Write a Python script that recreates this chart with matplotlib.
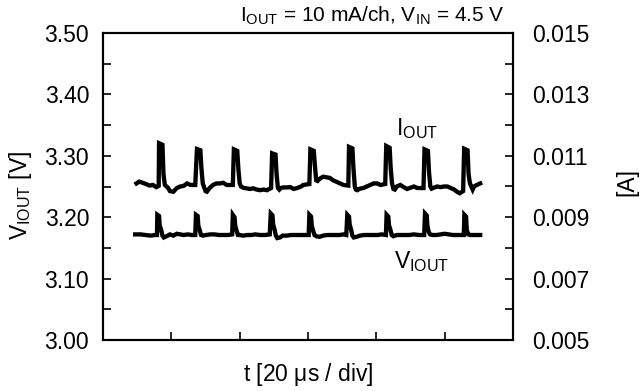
import matplotlib
matplotlib.use("Agg")
import matplotlib.pyplot as plt
from matplotlib.ticker import MultipleLocator, FormatStrFormatter

plt.rcParams['font.family'] = ['Liberation Sans', 'DejaVu Sans']
plt.rcParams['mathtext.default'] = 'regular'

# time in divisions (20 us / div)
t_iout = [0.49, 0.53, 0.58, 0.63, 0.68, 0.73, 0.78, 0.815,
          0.820, 0.870, 0.885, 0.905, 0.93, 0.95, 0.98, 1.03, 1.08, 1.13, 1.18, 1.23, 1.28, 1.35,
          1.375, 1.425, 1.440, 1.460, 1.48, 1.50, 1.52, 1.56, 1.61, 1.66, 1.71, 1.76, 1.81, 1.90,
          1.915, 1.965, 1.980, 2.000, 2.02, 2.05, 2.10, 2.15, 2.20, 2.25, 2.30, 2.35, 2.40, 2.46,
          2.475, 2.525, 2.540, 2.560, 2.58, 2.60, 2.64, 2.69, 2.74, 2.79, 2.84, 2.90, 2.93, 3.02,
          3.035, 3.085, 3.100, 3.120, 3.14, 3.17, 3.22, 3.27, 3.32, 3.37, 3.42, 3.47, 3.52, 3.59,
          3.600, 3.650, 3.665, 3.685, 3.70, 3.72, 3.76, 3.81, 3.86, 3.91, 3.96, 4.01, 4.06, 4.13,
          4.145, 4.195, 4.210, 4.230, 4.25, 4.27, 4.30, 4.35, 4.40, 4.45, 4.50, 4.55, 4.60, 4.69,
          4.705, 4.755, 4.770, 4.790, 4.81, 4.84, 4.89, 4.94, 4.99, 5.04, 5.09, 5.14, 5.18, 5.22, 5.27,
          5.285, 5.335, 5.350, 5.370, 5.39, 5.41, 5.43, 5.47, 5.52]
i_out = [0.01010, 0.01016, 0.01012, 0.01008, 0.01003, 0.01005, 0.00998, 0.01002,
         0.01141, 0.01136, 0.01040, 0.01005, 0.01000, 0.00996, 0.00985, 0.00983, 0.00995, 0.01000, 0.01002, 0.01010, 0.01005, 0.01005,
         0.01122, 0.01118, 0.01060, 0.01010, 0.00998, 0.00985, 0.00983, 0.00995, 0.01005, 0.01010, 0.01010, 0.01012, 0.01005, 0.01005,
         0.01121, 0.01116, 0.01060, 0.01010, 0.01000, 0.00996, 0.00994, 0.00992, 0.00994, 0.00990, 0.00988, 0.00990, 0.00988, 0.00995,
         0.01108, 0.01104, 0.01040, 0.00995, 0.00990, 0.00995, 0.00997, 0.00997, 0.00998, 0.00992, 0.00995, 0.01000, 0.01005, 0.01008,
         0.01121, 0.01116, 0.01070, 0.01020, 0.01018, 0.01025, 0.01032, 0.01030, 0.01028, 0.01020, 0.01015, 0.01010, 0.01005, 0.01003,
         0.01129, 0.01124, 0.01060, 0.01000, 0.00990, 0.00988, 0.00993, 0.00995, 0.01000, 0.01005, 0.01010, 0.01010, 0.01005, 0.01008,
         0.01132, 0.01126, 0.01060, 0.01010, 0.00992, 0.00990, 0.01000, 0.01005, 0.00998, 0.00992, 0.00996, 0.01000, 0.00995, 0.00995,
         0.01121, 0.01116, 0.01050, 0.01000, 0.00993, 0.00996, 0.01000, 0.00998, 0.01000, 0.01000, 0.00995, 0.00990, 0.00983, 0.00978, 0.00985,
         0.01123, 0.01118, 0.01040, 0.01010, 0.01000, 0.00990, 0.01000, 0.01005, 0.01010]

t_viout = [0.47, 0.55, 0.62, 0.70, 0.76, 0.79,
           0.795, 0.820, 0.830, 0.850, 0.870, 0.89, 0.93, 0.98, 1.03, 1.08, 1.13, 1.18, 1.24, 1.30, 1.35,
           1.36, 1.385, 1.395, 1.415, 1.435, 1.46, 1.51, 1.57, 1.63, 1.70, 1.76, 1.83, 1.89,
           1.90, 1.925, 1.935, 1.955, 1.975, 2.00, 2.05, 2.11, 2.17, 2.23, 2.30, 2.37, 2.44,
           2.455, 2.480, 2.490, 2.510, 2.530, 2.55, 2.59, 2.63, 2.69, 2.75, 2.82, 2.89, 2.96, 3.01,
           3.02, 3.045, 3.055, 3.075, 3.095, 3.12, 3.17, 3.22, 3.28, 3.34, 3.40, 3.46, 3.52, 3.56,
           3.575, 3.600, 3.610, 3.630, 3.650, 3.67, 3.71, 3.76, 3.82, 3.88, 3.95, 4.02, 4.08, 4.14,
           4.15, 4.175, 4.185, 4.205, 4.225, 4.25, 4.30, 4.36, 4.42, 4.48, 4.55, 4.62, 4.70,
           4.712, 4.737, 4.747, 4.767, 4.787, 4.82, 4.88, 4.94, 5.00, 5.06, 5.12, 5.18, 5.24, 5.28,
           5.288, 5.313, 5.323, 5.343, 5.37, 5.43, 5.50, 5.52]
v_iout = [3.172, 3.172, 3.171, 3.170, 3.171, 3.171,
          3.204, 3.202, 3.186, 3.180, 3.170, 3.167, 3.169, 3.172, 3.170, 3.173, 3.172, 3.171, 3.172, 3.171, 3.171,
          3.204, 3.202, 3.186, 3.179, 3.171, 3.170, 3.171, 3.172, 3.172, 3.171, 3.171, 3.171, 3.172,
          3.204, 3.200, 3.186, 3.178, 3.171, 3.171, 3.170, 3.171, 3.171, 3.172, 3.171, 3.171, 3.172,
          3.206, 3.203, 3.188, 3.180, 3.170, 3.166, 3.167, 3.170, 3.170, 3.171, 3.171, 3.171, 3.171, 3.171,
          3.204, 3.201, 3.186, 3.178, 3.171, 3.169, 3.168, 3.170, 3.171, 3.171, 3.171, 3.171, 3.172, 3.171,
          3.204, 3.201, 3.188, 3.180, 3.170, 3.167, 3.168, 3.170, 3.171, 3.171, 3.171, 3.171, 3.172, 3.171,
          3.204, 3.201, 3.187, 3.180, 3.171, 3.169, 3.171, 3.171, 3.171, 3.171, 3.172, 3.171, 3.171,
          3.206, 3.203, 3.186, 3.176, 3.172, 3.171, 3.171, 3.172, 3.173, 3.172, 3.171, 3.171, 3.171, 3.171,
          3.204, 3.201, 3.180, 3.172, 3.171, 3.171, 3.171, 3.171]

right_ticks = [0.005, 0.007, 0.009, 0.011, 0.013, 0.015]

fs = 16.5
W, H = 641, 391

fig = plt.figure(figsize=(W / 100, H / 100), dpi=100)
ax = fig.add_axes([103 / W, 51 / H, 410 / W, 307 / H])
ax2 = ax.twinx()

ax.plot(t_viout, v_iout, color='black', linewidth=3.1, solid_joinstyle='miter')
ax2.plot(t_iout, i_out, color='black', linewidth=3.1, solid_joinstyle='miter')

ax.set_xlim(0, 6)
ax.set_ylim(3.00, 3.50)
ax2.set_ylim(0.005, 0.015)

ax.set_xticks([1, 2, 3, 4, 5])
ax.set_xticklabels([])
ax.yaxis.set_major_locator(MultipleLocator(0.1))
ax.yaxis.set_minor_locator(MultipleLocator(0.05))
ax.yaxis.set_major_formatter(FormatStrFormatter('%.2f'))
ax2.set_yticks(right_ticks)
ax2.yaxis.set_minor_locator(MultipleLocator(0.001))
ax2.yaxis.set_major_formatter(FormatStrFormatter('%.3f'))

for a in (ax, ax2):
    a.tick_params(which='both', direction='in', length=6, width=1.2, labelsize=fs)
    for s in a.spines.values():
        s.set_linewidth(1.5)
ax.tick_params(axis='y', which='both', right=False, pad=10)
ax2.tick_params(axis='y', which='both', left=False, pad=14)

# axis labels placed at the reference pixel positions
fig.text(20 / W, 1 - 195 / H, r'V$_{IOUT}$ [V]', fontsize=fs, rotation=90,
         ha='center', va='center')
fig.text(627 / W, 1 - 182 / H, '[A]', fontsize=fs, rotation=90,
         ha='center', va='center')
fig.text(308 / W, 1 - 375 / H, r't [20 $\mu$s / div]', fontsize=fs,
         ha='center', va='center')
fig.text(372 / W, 1 - 16 / H, r'I$_{OUT}$ = 10 mA/ch, V$_{IN}$ = 4.5 V',
         fontsize=15, ha='center', va='center')

ax.text(4.595, 3.344, r'I$_{OUT}$', fontsize=fs, ha='center', va='center')
ax.text(4.66, 3.127, r'V$_{IOUT}$', fontsize=fs, ha='center', va='center')

fig.savefig('out.png', dpi=100)
